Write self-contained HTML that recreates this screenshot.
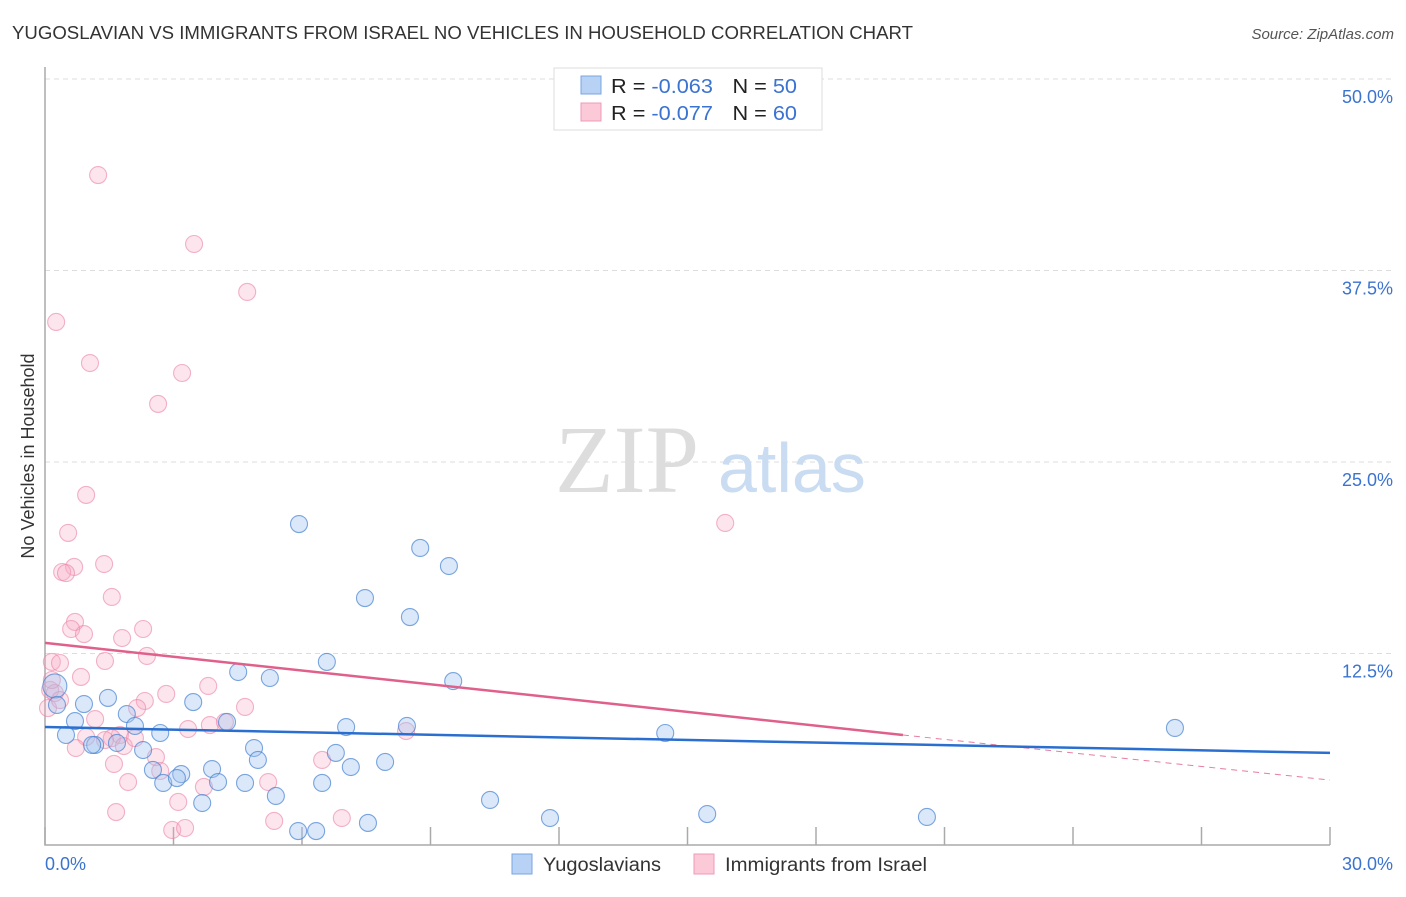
<!DOCTYPE html>
<html><head><meta charset="utf-8"><style>
body{margin:0;background:#fff;font-family:"Liberation Sans",sans-serif;}
svg text{font-family:"Liberation Sans",sans-serif;}
</style></head><body>
<svg width="1406" height="892" xmlns="http://www.w3.org/2000/svg">
<text x="12" y="39" font-size="18" fill="#333" textLength="901" lengthAdjust="spacingAndGlyphs">YUGOSLAVIAN VS IMMIGRANTS FROM ISRAEL NO VEHICLES IN HOUSEHOLD CORRELATION CHART</text>
<text x="1394" y="39" font-size="15" fill="#555" font-style="italic" text-anchor="end">Source: ZipAtlas.com</text>
<g id="grid"></g>
<g id="axes"></g>
<text x="555" y="492" font-size="96" fill="#ddd" style="font-family:'Liberation Serif',serif">ZIP</text>
<text x="718" y="492" font-size="70" fill="#c9dcf2">atlas</text>
<g id="pts"></g>
<g id="trend"></g>
<text transform="translate(34,456) rotate(-90)" font-size="18" fill="#333" text-anchor="middle">No Vehicles in Household</text>
<text x="45" y="870" font-size="18" fill="#3b73d0">0.0%</text>
<text x="1393" y="870" font-size="18" fill="#3b73d0" text-anchor="end">30.0%</text>
<g>
<rect x="554" y="68" width="268" height="62" fill="#fff" stroke="#ddd"/>
<rect x="581" y="76" width="20" height="18" fill="#b7d2f5" stroke="#7aa6e0"/>
<rect x="581" y="103" width="20" height="18" fill="#fcc9d8" stroke="#ee9bb5"/>
<text x="611" y="93" font-size="20" fill="#222" textLength="186" lengthAdjust="spacingAndGlyphs">R = <tspan fill="#3b73d0">-0.063</tspan><tspan dx="18">N = </tspan><tspan fill="#3b73d0">50</tspan></text>
<text x="611" y="120" font-size="20" fill="#222" textLength="186" lengthAdjust="spacingAndGlyphs">R = <tspan fill="#3b73d0">-0.077</tspan><tspan dx="18">N = </tspan><tspan fill="#3b73d0">60</tspan></text>
</g>
<g>
<rect x="512" y="854" width="20" height="20" fill="#b7d2f5" stroke="#7aa6e0"/>
<text x="543" y="871" font-size="19" fill="#333" textLength="118" lengthAdjust="spacingAndGlyphs">Yugoslavians</text>
<rect x="694" y="854" width="20" height="20" fill="#fcc9d8" stroke="#ee9bb5"/>
<text x="725" y="871" font-size="19" fill="#333" textLength="202" lengthAdjust="spacingAndGlyphs">Immigrants from Israel</text>
</g>
</svg>
<script>
const blueX=[5.93,8.76,9.43,7.47,8.52,6.58,4.51,5.25,9.53,0.23,0.91,0.28,1.47,3.46,0.70,1.91,2.10,2.69,0.49,1.17,1.68,2.29,4.25,7.03,8.45,14.48,26.38,4.88,4.97,6.79,7.14,7.94,3.90,3.18,2.52,2.76,3.08,4.67,4.04,3.67,5.39,6.47,10.39,11.79,15.46,20.59,5.91,6.33,7.54,1.10];
const blueY=[20.95,19.39,18.21,16.12,14.88,11.95,11.29,10.90,10.70,10.38,9.20,9.14,9.60,9.33,8.09,8.55,7.77,7.31,7.18,6.53,6.66,6.20,8.03,7.70,7.77,7.31,7.64,6.33,5.55,6.01,5.09,5.42,4.96,4.63,4.90,4.05,4.37,4.05,4.11,2.74,3.20,4.05,2.94,1.76,2.02,1.83,0.91,0.91,1.44,6.53];
const pinkX=[1.24,3.48,4.72,0.26,1.05,3.20,2.64,0.96,0.54,15.88,1.38,0.68,0.40,0.49,1.56,0.70,0.61,0.91,1.80,2.29,2.38,0.16,0.35,1.40,0.84,0.12,0.23,0.07,3.81,2.83,2.33,2.15,4.67,1.17,3.34,3.85,4.20,8.43,1.75,0.96,1.56,0.72,1.84,2.59,6.47,1.61,2.69,1.94,5.21,3.71,3.11,1.66,5.35,6.93,2.97,3.27,0.16,1.40,2.10,0.35];
const pinkY=[43.73,39.23,36.10,34.14,31.46,30.81,28.79,22.85,20.37,21.02,18.34,18.15,17.82,17.75,16.19,14.56,14.10,13.77,13.51,14.10,12.34,11.95,11.88,12.01,10.97,10.12,9.92,8.94,10.38,9.86,9.40,8.94,9.01,8.22,7.57,7.83,8.03,7.44,7.18,7.05,6.98,6.33,6.46,5.74,5.55,5.29,4.83,4.11,4.11,3.79,2.81,2.15,1.57,1.76,0.98,1.11,10.77,6.85,6.98,9.46];
const yTicks=[12.5,25,37.5,50];
const yTickLabels=["12.5%","25.0%","37.5%","50.0%"];
const xTicks=[0,3,6,9,12,15,18,21,24,27,30];
const blueTrend=[[0,7.70],[30,6.01]];
const pinkTrend=[[0,13.19],[20.03,7.18]];
const pinkDash=[[20.03,7.18],[30,4.24]];
const X=v=>45+v*(1285/30), Y=v=>845-v*(766/50);
const NS="http://www.w3.org/2000/svg";
function mk(t,a,p){const e=document.createElementNS(NS,t);for(const k in a)e.setAttribute(k,a[k]);p.appendChild(e);return e;}
const grid=document.getElementById('grid'),axes=document.getElementById('axes');
yTicks.forEach((v,i)=>{
 const l=mk('line',{x1:45,x2:1394,y1:Y(v),y2:Y(v),stroke:'#ddd','stroke-dasharray':'5,4'},grid);
 
 
 const t=mk('text',{x:1393,y:Y(v)+24,'font-size':18,fill:'#3b73d0','text-anchor':'end'},grid);
 t.textContent=yTickLabels[i];
 
 
});
const ax=mk('path',{d:`M45,67 V845 H1330`,stroke:'#aaa',fill:'none','stroke-width':1.5},axes);


xTicks.forEach(v=>{
 const l=mk('line',{x1:X(v),x2:X(v),y1:827,y2:845,stroke:'#aaa','stroke-width':1.5},axes);
 
 
});
const pts=document.getElementById('pts');
pinkX.forEach((x,i)=>{
 const c=mk('circle',{cx:X(x),cy:Y(pinkY[i]),r:8.5,fill:'rgba(248,170,195,0.3)',stroke:'rgba(235,130,165,0.6)','stroke-width':1.1},pts);
 
 
});
blueX.forEach((x,i)=>{
 const c=mk('circle',{cx:X(x),cy:Y(blueY[i]),r:i==9?12:8.5,fill:'rgba(160,195,240,0.38)',stroke:'rgba(70,130,210,0.7)','stroke-width':1.1},pts);
 
 
});
const tr=document.getElementById('trend');
function line(d,col,w,dash,name){const l=mk('line',{x1:X(d[0][0]),y1:Y(d[0][1]),x2:X(d[1][0]),y2:Y(d[1][1]),stroke:col,'stroke-width':w},tr);if(dash)l.setAttribute('stroke-dasharray',dash);
}
line(pinkDash,'#e87ca0',1,'6,5','trend-israel-extension');
line(pinkTrend,'#e0608c',2.5,null,'trend-israel');
line(blueTrend,'#2a6fd0',2.5,null,'trend-yugoslavian');
</script>
</body></html>
